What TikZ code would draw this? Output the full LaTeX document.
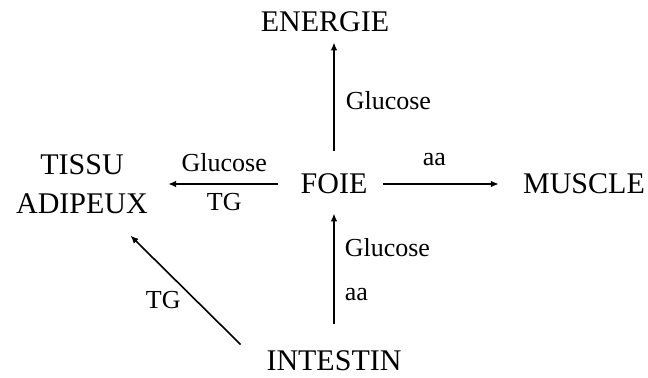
\documentclass[tikz,border=0pt]{standalone}
\usepackage{fontspec}
\setmainfont{Liberation Serif}
\usepackage{tikz}
\usetikzlibrary{arrows.meta,positioning}
\tikzset{
  organ/.style={on grid,inner sep=5pt,align=center,font=\rmfamily\fontsize{15}{19.5}\selectfont},
  flowlabel/.style={inner sep=0pt,font=\rmfamily\fontsize{13}{15}\selectfont},
  flow/.style={-{Latex[length=4pt,width=3.4pt]},line width=0.8pt}
}

\begin{document}
\begin{tikzpicture}[x=0.5pt,y=-0.5pt]
  \useasboundingbox (0,0) rectangle (648,378);

  % --- Organs ---
  \node[organ] (foie) at (334,184) {FOIE};

  \node[organ,above left=81pt and 4.5pt of foie] (energie) {ENERGIE};

  \node[organ,right=125pt of foie] (muscle) {MUSCLE};

  \node[organ,left=126pt of foie] (tissu) {TISSU\\ADIPEUX};

  \node[organ,below=88.5pt of foie] (intestin) {INTESTIN};

  % --- Liver outputs ---
  \draw[flow,shorten <=6.5pt]
    (foie.north) --
    node[flowlabel,right=5.5pt,pos=0.52] (glcup) {Glucose}
    (foie.north |- energie.south);

  \draw[flow,shorten <=6pt,shorten >=5pt]
    (foie.west) --
    node[flowlabel,above=5.5pt] (glcleft) {Glucose}
    node[flowlabel,below=4.2pt] (tgleft) {TG}
    (foie.west -| tissu.east);

  \draw[flow,shorten <=2.5pt,shorten >=7pt]
    (foie.east) --
    node[flowlabel,above=8.5pt,pos=0.42] (aaright) {aa}
    (foie.east -| muscle.west);

  % --- Intestinal absorption ---
  \draw[flow,shorten <=8.5pt,shorten >=4.5pt]
    (intestin.north -| foie.south) --
    node[flowlabel,right=5pt,pos=0.34] (aalow) {aa}
    node[flowlabel,right=5pt,pos=0.68] (glclow) {Glucose}
    (foie.south);

  \draw[flow]
    ([xshift=-7.75pt,yshift=-2pt]intestin.north west) --
    node[flowlabel,left=7pt,pos=0.41] (tgdiag) {TG}
    ([xshift=-13.9pt,yshift=-5.8pt]tissu.south east);

\end{tikzpicture}
\end{document}
